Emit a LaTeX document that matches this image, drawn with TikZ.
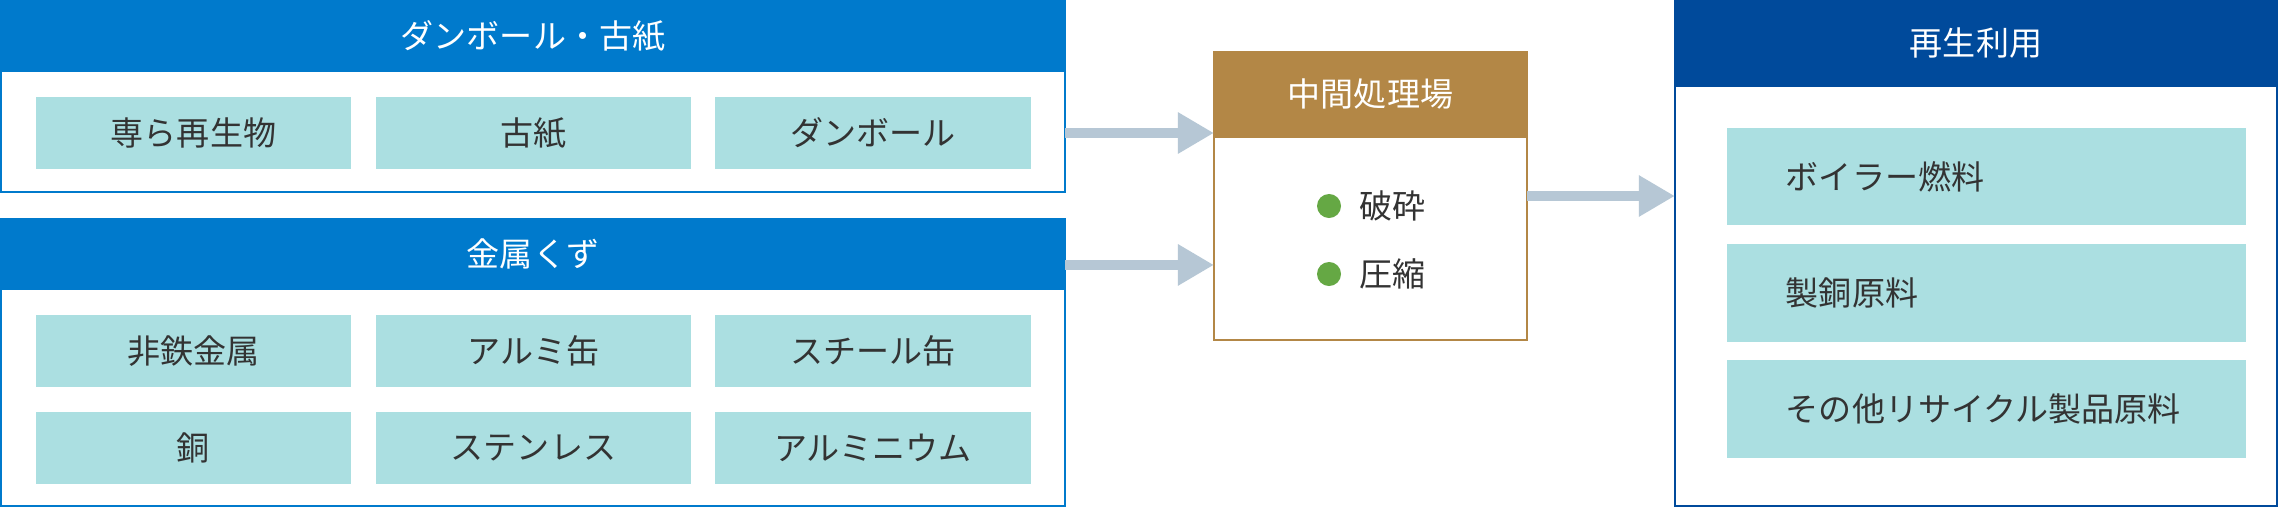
\documentclass[tikz,border=0pt]{standalone}
\usepackage{fontspec}
\setmainfont{Noto Sans CJK JP}
\usetikzlibrary{arrows.meta,positioning}
\definecolor{headblue}{RGB}{0,122,204}
\definecolor{darkblue}{RGB}{0,74,155}
\definecolor{cellc}{RGB}{171,223,225}
\definecolor{brownc}{RGB}{179,135,70}
\definecolor{arrowc}{RGB}{182,199,213}
\definecolor{dotc}{RGB}{101,168,68}
\definecolor{textc}{RGB}{51,51,51}
\begin{document}
\begin{tikzpicture}
	[
	x=0.01cm, y=-0.01cm,
	every node/.style={outer sep=0pt, font=\fontsize{9.4pt}{11pt}\selectfont, text=textc},
	grpbox/.style={rectangle, draw=headblue, line width=0.02cm, fill=white},
	grphead/.style={rectangle, fill=headblue, text=white, inner sep=0pt},
	cell/.style={rectangle, fill=cellc, inner sep=0pt, minimum width=3.15cm, minimum height=0.72cm},
	usecell/.style={rectangle, fill=cellc, inner ysep=0pt, inner xsep=0.59cm, text width=4.01cm, align=left, minimum height=0.97cm},
	dot/.style={circle, fill=dotc, inner sep=0pt, minimum size=0.24cm},
	item/.style={inner sep=0pt, anchor=west},
	flow/.style={draw=arrowc, line width=0.1cm, -{Triangle[length=0.36cm, width=0.39cm]}}
	]
		\useasboundingbox [fill=white] (0,0) rectangle (2280,509);
		
		% group 1
		\node [grpbox, minimum width=10.64cm, minimum height=1.91cm] (grp1) at (533, 96.5) {};
		\node [grphead, minimum width=10.66cm, minimum height=0.72cm] (grp1h) at (533, 36) {ダンボール・古紙};
		\node [cell] (c11) at (193.5, 133) {専ら再生物};
		\node [cell] (c12) at (533.5, 133) {古紙};
		\node [cell] (c13) at (873, 133) {ダンボール};
		
		% group 2
		\node [grpbox, minimum width=10.64cm, minimum height=2.87cm] (grp2) at (533, 362.5) {};
		\node [grphead, minimum width=10.66cm, minimum height=0.72cm] (grp2h) at (533, 254) {金属くず};
		\node [cell] (c21) at (193.5, 351) {非鉄金属};
		\node [cell] (c22) at (533.5, 351) {アルミ缶};
		\node [cell] (c23) at (873, 351) {スチール缶};
		\node [cell] (c31) at (193.5, 448) {銅};
		\node [cell] (c32) at (533.5, 448) {ステンレス};
		\node [cell] (c33) at (873, 448) {アルミニウム};
		
		% intermediate treatment
		\node [grpbox, draw=brownc, minimum width=3.13cm, minimum height=2.88cm] (mid) at (1370.5, 196) {};
		\node [grphead, fill=brownc, minimum width=3.15cm, minimum height=0.87cm] (midh) at (1370.5, 94.5) {中間処理場};
		\node [dot] (d1) at (1329, 206) {};
		\node [dot] (d2) at (1329, 274) {};
		\node [item, right=0.18cm of d1] (t1) {破砕};
		\node [item, right=0.18cm of d2] (t2) {圧縮};
		
		% reuse
		\node [grpbox, draw=darkblue, minimum width=6.02cm, minimum height=5.05cm] (reuse) at (1976, 253.5) {};
		\node [grphead, fill=darkblue, minimum width=6.04cm, minimum height=0.87cm] (reuseh) at (1976, 43.5) {再生利用};
		\node [usecell] (u1) at (1986.5, 176.5) {ボイラー燃料};
		\node [usecell] (u2) at (1986.5, 293) {製銅原料};
		\node [usecell] (u3) at (1986.5, 409) {その他リサイクル製品原料};
		
		% drawing code
		\draw [flow] (grp1.east |- c13) -- (mid.west |- c13);
		\draw [flow] ([yshift=-0.46cm]grp2.north east) coordinate (a2) -- (mid.west |- a2);
		\draw [flow] (mid.east) -- (reuse.west |- mid.east);
	\end{tikzpicture}
\end{document}
